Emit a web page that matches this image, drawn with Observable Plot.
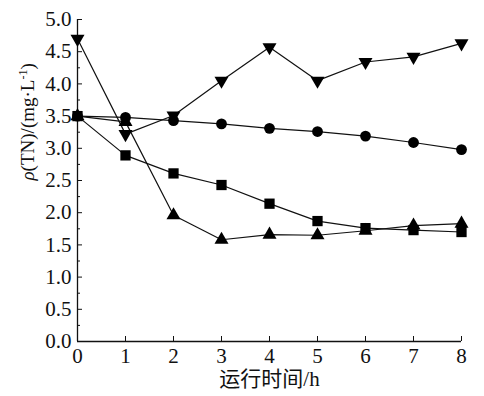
<!DOCTYPE html>
<html>
<head>
<meta charset="utf-8">
<script src="https://cdn.jsdelivr.net/npm/d3@7"></script>
<script src="https://cdn.jsdelivr.net/npm/@observablehq/plot@0.6"></script>
<style>
  html, body { margin: 0; padding: 0; background: #fff; }
  #chart svg { display: block; }
  #chart svg text { font-family: "Liberation Serif", "Noto Sans CJK SC", serif !important; }
</style>
</head>
<body>
<div id="chart"></div>
<script>
const hours = [0, 1, 2, 3, 4, 5, 6, 7, 8];
const seriesCircle   = [3.50, 3.48, 3.43, 3.38, 3.31, 3.26, 3.19, 3.09, 2.98];
const seriesSquare   = [3.50, 2.89, 2.61, 2.43, 2.14, 1.87, 1.76, 1.73, 1.70];
const seriesTriUp    = [3.50, 3.41, 1.96, 1.58, 1.66, 1.65, 1.72, 1.80, 1.83];
const seriesTriDown  = [4.70, 3.22, 3.51, 4.05, 4.57, 4.05, 4.34, 4.42, 4.63];
const yTicks = [0, 0.5, 1, 1.5, 2, 2.5, 3, 3.5, 4, 4.5, 5];
const yMinorTicks = [0.25, 0.75, 1.25, 1.75, 2.25, 2.75, 3.25, 3.75, 4.25, 4.75];
const xTicks = [0, 1, 2, 3, 4, 5, 6, 7, 8];
const xLabel = "运行时间/h";
const yLabel = "ρ(TN)/(mg·L-1)";

const series = [
  {name: "circle", values: seriesCircle, symbol: "circle", r: 5.4, rotate: 0},
  {name: "square", values: seriesSquare, symbol: "square", r: 5.8, rotate: 0},
  {name: "triUp", values: seriesTriUp, symbol: "triangle", r: 5.2, rotate: 0},
  {name: "triDown", values: seriesTriDown, symbol: "triangle", r: 5.2, rotate: 180}
];
const rows = series.flatMap(s => hours.map((h, i) => ({series: s.name, h, v: s.values[i]})));

const font = "Liberation Serif, Noto Sans CJK SC, serif";

const marks = [
  Plot.ruleX([0], {stroke: "#111", strokeWidth: 1.3}),
  Plot.ruleY([0], {stroke: "#111", strokeWidth: 1.3}),
  Plot.axisY({ticks: yTicks, tickSize: 0, tickPadding: 6, tickFormat: d3.format(".1f"), label: null, fontSize: 21, fontFamily: font, fill: "#111"}),
  Plot.axisY({ticks: yTicks, tickSize: -5, tickFormat: () => "", label: null, stroke: "#111"}),
  Plot.axisY({ticks: yMinorTicks, tickSize: -3, tickFormat: () => "", label: null, stroke: "#111"}),
  Plot.axisX({ticks: xTicks, tickSize: 0, tickPadding: 7, tickFormat: d3.format("d"), label: null, fontSize: 21, fontFamily: font, fill: "#111"}),
  Plot.axisX({ticks: xTicks, tickSize: -5, tickFormat: () => "", label: null, stroke: "#111"}),
  ...series.map(s => Plot.line(rows.filter(d => d.series === s.name), {x: "h", y: "v", stroke: "#111", strokeWidth: 1.2})),
  ...series.map(s => Plot.dot(rows.filter(d => d.series === s.name), {x: "h", y: "v", symbol: s.symbol, r: s.r, rotate: s.rotate, fill: "#000", stroke: "none"})),
  Plot.text([xLabel], {frameAnchor: "bottom", dy: 38, text: d => d, fontSize: 21, fontFamily: font, fill: "#111", lineAnchor: "middle"}),
  Plot.text([yLabel], {frameAnchor: "left", dx: -50, rotate: -90, text: d => d, fontSize: 19, fontFamily: font, fill: "#111", lineAnchor: "middle", className: "ylab"})
];

const chart = Plot.plot({
  width: 484,
  height: 396,
  marginLeft: 77,
  marginRight: 23,
  marginTop: 19,
  marginBottom: 55,
  style: {fontFamily: font, background: "#fff", color: "#111"},
  x: {domain: [0, 8], label: null, axis: null},
  y: {domain: [0, 5], label: null, axis: null},
  marks
});

const t = chart.querySelector(".ylab text");
if (t) {
  const ns = "http://www.w3.org/2000/svg";
  t.textContent = "";
  const a = document.createElementNS(ns, "tspan");
  a.setAttribute("font-style", "italic");
  a.textContent = "ρ";
  const b = document.createElementNS(ns, "tspan");
  b.textContent = "(TN)/(mg·L";
  const c = document.createElementNS(ns, "tspan");
  c.setAttribute("font-size", "12");
  c.setAttribute("dy", "-7");
  c.textContent = "-1";
  const d = document.createElementNS(ns, "tspan");
  d.setAttribute("dy", "7");
  d.textContent = ")";
  t.append(a, b, c, d);
}

document.getElementById("chart").append(chart);
</script>
</body>
</html>
